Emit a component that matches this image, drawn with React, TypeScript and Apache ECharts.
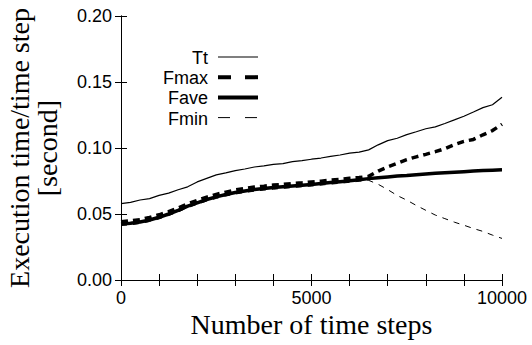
import React, { useEffect, useRef } from "react";
import * as echarts from "echarts";

const steps = [0, 250, 500, 750, 1000, 1250, 1500, 1750, 2000, 2250, 2500, 2750, 3000, 3250, 3500, 3750, 4000, 4250, 4500, 4750, 5000, 5250, 5500, 5750, 6000, 6250, 6500, 6750, 7000, 7250, 7500, 7750, 8000, 8250, 8500, 8750, 9000, 9250, 9500, 9750, 10000];

const tt = [0.0578, 0.0588, 0.0606, 0.0616, 0.0641, 0.0658, 0.0684, 0.0706, 0.0743, 0.0770, 0.0796, 0.0811, 0.0829, 0.0841, 0.0856, 0.0865, 0.0876, 0.0882, 0.0897, 0.0905, 0.0915, 0.0924, 0.0936, 0.0947, 0.0961, 0.0969, 0.0986, 0.1024, 0.1056, 0.1074, 0.1101, 0.1123, 0.1146, 0.1160, 0.1186, 0.1213, 0.1241, 0.1273, 0.1306, 0.1328, 0.1385];

const fmax = [0.0442, 0.0448, 0.0457, 0.0474, 0.0494, 0.0518, 0.0546, 0.0577, 0.0603, 0.0628, 0.0649, 0.0666, 0.0682, 0.0693, 0.0704, 0.0711, 0.0719, 0.0724, 0.0731, 0.0736, 0.0743, 0.0749, 0.0757, 0.0763, 0.0771, 0.0776, 0.0785, 0.0825, 0.0857, 0.0884, 0.0912, 0.0933, 0.0952, 0.0972, 0.0995, 0.1025, 0.1050, 0.1065, 0.1100, 0.1132, 0.1180];

const fave = [0.0425, 0.0430, 0.0440, 0.0455, 0.0475, 0.0500, 0.0527, 0.0560, 0.0585, 0.0610, 0.0630, 0.0648, 0.0663, 0.0675, 0.0685, 0.0693, 0.0700, 0.0706, 0.0712, 0.0718, 0.0724, 0.0731, 0.0738, 0.0745, 0.0752, 0.0760, 0.0768, 0.0775, 0.0781, 0.0787, 0.0792, 0.0798, 0.0803, 0.0808, 0.0813, 0.0817, 0.0821, 0.0825, 0.0829, 0.0832, 0.0835];

const fmin = [0.0413, 0.0418, 0.0428, 0.0443, 0.0463, 0.0488, 0.0515, 0.0548, 0.0573, 0.0598, 0.0618, 0.0636, 0.0651, 0.0663, 0.0673, 0.0681, 0.0688, 0.0694, 0.0700, 0.0706, 0.0712, 0.0719, 0.0726, 0.0733, 0.0740, 0.0748, 0.0755, 0.0725, 0.0685, 0.0640, 0.0605, 0.0565, 0.0528, 0.0492, 0.0465, 0.0438, 0.0415, 0.0390, 0.0368, 0.0340, 0.0315];

const yTicks = ["0.00", "0.05", "0.10", "0.15", "0.20"];
const xLabels = ["0", "5000", "10000"];

const legendItems = [
  { name: "Tt", width: 1.2, dash: null as number[] | null },
  { name: "Fmax", width: 4, dash: [13, 14] },
  { name: "Fave", width: 4, dash: null },
  { name: "Fmin", width: 1, dash: [12, 15] },
];

const sans = "Liberation Sans";
const serif = "Liberation Serif";

export default function App() {
  const ref = useRef<HTMLDivElement>(null);
  useEffect(() => {
    if (!ref.current) return;
    const chart = echarts.init(ref.current, undefined, { renderer: "svg" });
    const pairs = (vals: number[]) => steps.map((s, i) => [s, vals[i]]);
    const axisLine = { show: true, lineStyle: { color: "#000", width: 1 } };
    const tick = { show: true, inside: true, length: 6, lineStyle: { color: "#000", width: 1 } };

    const graphics: any[] = [];
    legendItems.forEach((it, i) => {
      const y = 57 + i * 20.2;
      graphics.push({
        type: "text",
        x: 208,
        y: y + 1,
        style: {
          text: it.name,
          font: `18px '${sans}'`,
          fill: "#000",
          align: "right",
          verticalAlign: "middle",
          textAlign: "right",
          textVerticalAlign: "middle",
        },
      });
      graphics.push({
        type: "line",
        shape: { x1: 218, y1: y, x2: 258, y2: y },
        style: { stroke: "#000", lineWidth: it.width, lineDash: it.dash || undefined },
      });
    });
    graphics.push({
      type: "text",
      x: 311.5,
      y: 310,
      style: {
        text: "Number of time steps",
        font: `28px '${serif}'`,
        fill: "#000",
        align: "center",
        verticalAlign: "top",
        textAlign: "center",
        textVerticalAlign: "top",
      },
    });
    graphics.push({
      type: "text",
      x: 33,
      y: 148,
      rotation: Math.PI / 2,
      style: {
        text: "Execution time/time step\n[second]",
        font: `28px '${serif}'`,
        lineHeight: 28,
        fill: "#000",
        align: "center",
        verticalAlign: "middle",
        textAlign: "center",
        textVerticalAlign: "middle",
      },
    });

    chart.setOption({
      animation: false,
      grid: { left: 121, right: 30, top: 16, bottom: 65 },
      xAxis: [
        {
          type: "value",
          min: 0,
          max: 10000,
          interval: 1000,
          position: "bottom",
          axisLine,
          axisTick: tick,
          splitLine: { show: false },
          axisLabel: {
            margin: 9,
            color: "#000",
            fontFamily: sans,
            fontSize: 18,
            formatter: (v: number) => (v % 5000 === 0 ? xLabels[v / 5000] : ""),
          },
        },
        {
          type: "value",
          min: 0,
          max: 10000,
          interval: 1000,
          position: "top",
          axisLine,
          axisTick: tick,
          splitLine: { show: false },
          axisLabel: { show: false },
        },
      ],
      yAxis: [
        {
          type: "value",
          min: 0,
          max: 0.2,
          interval: 0.05,
          position: "left",
          axisLine,
          axisTick: tick,
          splitLine: { show: false },
          axisLabel: {
            margin: 9,
            color: "#000",
            fontFamily: sans,
            fontSize: 18,
            padding: [9, 0, 0, 0],
            formatter: (v: number) => yTicks[Math.round(v / 0.05)],
          },
        },
        {
          type: "value",
          min: 0,
          max: 0.2,
          interval: 0.05,
          position: "right",
          axisLine,
          axisTick: tick,
          splitLine: { show: false },
          axisLabel: { show: false },
        },
      ],
      series: [
        {
          name: "Tt",
          type: "line",
          data: pairs(tt),
          showSymbol: false,
          lineStyle: { color: "#000", width: 1.2 },
        },
        {
          name: "Fmax",
          type: "line",
          data: pairs(fmax),
          showSymbol: false,
          lineStyle: { color: "#000", width: 3.5, type: [7, 5] },
        },
        {
          name: "Fave",
          type: "line",
          data: pairs(fave),
          showSymbol: false,
          lineStyle: { color: "#000", width: 3.5 },
        },
        {
          name: "Fmin",
          type: "line",
          data: pairs(fmin),
          showSymbol: false,
          lineStyle: { color: "#000", width: 1, type: [6, 6] },
        },
      ],
      graphic: graphics,
    });
    return () => chart.dispose();
  }, []);
  return (
    <div
      ref={ref}
      style={{ position: "fixed", left: 0, top: 0, width: 532, height: 345, background: "#fff" }}
    />
  );
}
